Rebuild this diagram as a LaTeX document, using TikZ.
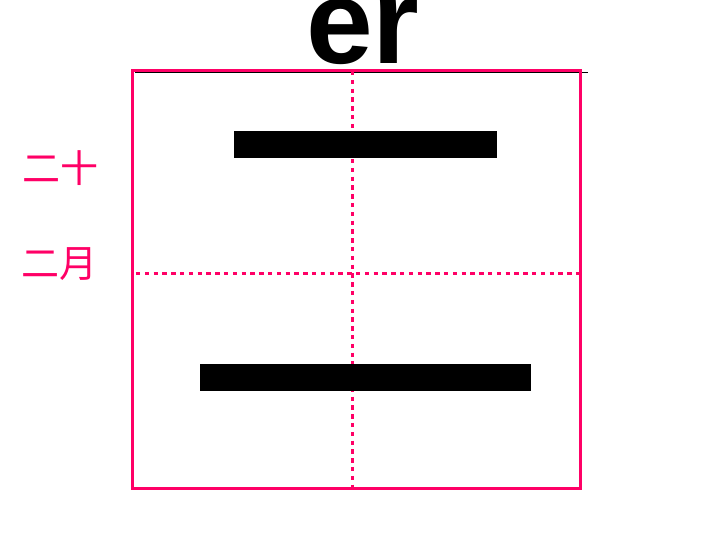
\documentclass[tikz,border=0pt]{standalone}
\usepackage{fontspec}
\setmainfont{Liberation Sans}
\newfontfamily\cjk{Noto Sans CJK SC}
\definecolor{gridpink}{HTML}{FF0066}
\usetikzlibrary{positioning}

\begin{document}
\begin{tikzpicture}[x=0.5pt,y=-0.5pt,
  frame/.style={draw=gridpink,line width=1.5pt},
  guide/.style={draw=gridpink,line width=1.5pt,dash pattern=on 2.2pt off 2.2pt},
  stroke/.style={fill=black},
  hint/.style={text=gridpink,font=\cjk\fontsize{19}{19}\selectfont,inner sep=0pt}]
  \useasboundingbox (0,0) rectangle (720,540);
  \coordinate (tl) at (133,71); \coordinate (br) at (581,489);
  \coordinate (vtop) at (353,71); \coordinate (vbot) at (353,489);
  \coordinate (hleft) at (136,274); \coordinate (hright) at (581,274);
  \coordinate (rulea) at (135,72.5); \coordinate (ruleb) at (588,72.5);
  % title
  \node[anchor=base,inner sep=0pt,font=\bfseries\fontsize{60}{60}\selectfont] (pinyin) at (363,64) {er};
  \draw[line width=0.6pt] (rulea) -- (ruleb);
  % grid
  \draw[guide] (vtop) -- (vbot);
  \draw[guide] (hleft) -- (hright);
  \draw[frame] (tl) rectangle (br);
  % strokes
  \fill[stroke] (234,131) rectangle (497,158);
  \fill[stroke] (200,364) rectangle (531,391);
  % words
  \node[hint] (word1) at (61,168) {二十};
  \node[hint] (word2) at (60,264) {二月};
\end{tikzpicture}
\end{document}
